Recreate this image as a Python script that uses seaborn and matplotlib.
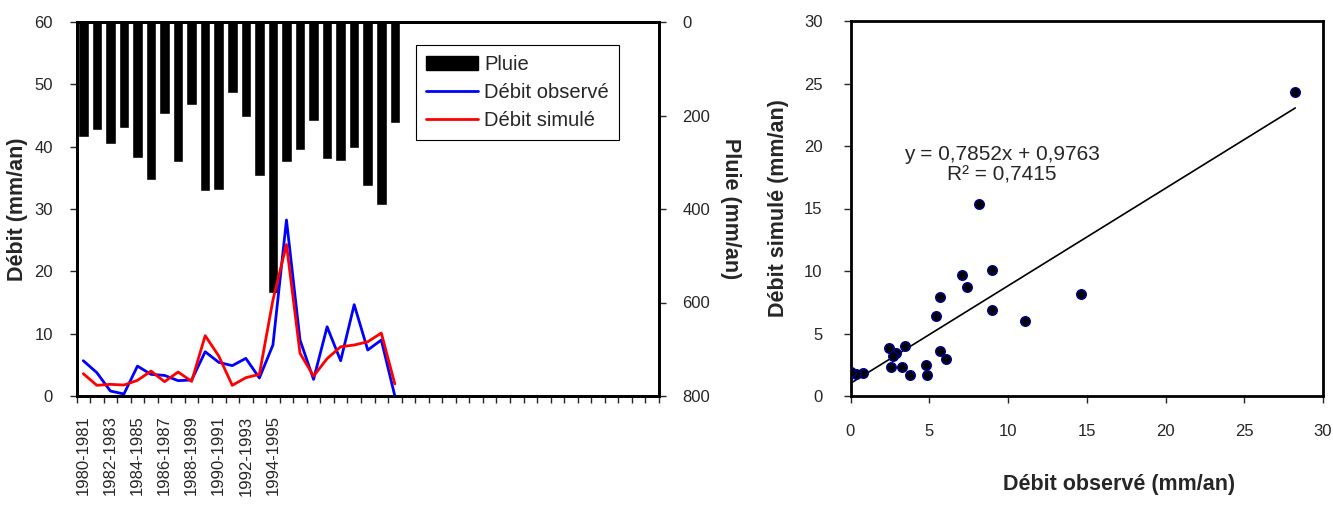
import numpy as np
import pandas as pd
import matplotlib
matplotlib.use('Agg')
import matplotlib.pyplot as plt
from matplotlib.patches import Patch
from matplotlib.lines import Line2D
import seaborn as sns

# données (1980-1981 ... 2003-2004)
pluie = [246, 230, 261, 226, 291, 338, 197, 299, 178, 361, 359, 151,
         203, 330, 580, 299, 273, 212, 292, 298, 270, 350, 391, 217]
debit_obs = [5.66, 3.75, 0.8, 0.32, 4.8, 3.47, 3.3, 2.46, 2.57, 7.1, 5.4, 4.87,
             6.04, 2.89, 8.18, 28.24, 8.98, 2.67, 11.1, 5.66, 14.65, 7.38, 8.98, 0.0]
debit_sim = [3.58, 1.71, 1.87, 1.76, 2.51, 4.0, 2.3, 3.85, 2.35, 9.68, 6.42, 1.71,
             2.94, 3.47, 15.4, 24.3, 6.85, 3.2, 6.0, 7.9, 8.18, 8.7, 10.1, 1.93]

# étiquettes des saisons (une sur deux affichée)
saisons = ["1980-1981", "1981-1982", "1982-1983", "1983-1984", "1984-1985",
           "1985-1986", "1986-1987", "1987-1988", "1988-1989", "1989-1990",
           "1990-1991", "1991-1992", "1992-1993", "1993-1994", "1994-1995",
           "1995-1996"]
n_categories = 43

equation = "y = 0,7852x + 0,9763\nR² = 0,7415"

df = pd.DataFrame({'annee': np.arange(len(pluie)), 'pluie': pluie,
                   'obs': debit_obs, 'sim': debit_sim})

sns.set_style('ticks')
plt.rcParams['font.family'] = ['Liberation Sans', 'DejaVu Sans']
plt.rcParams['axes.linewidth'] = 2
plt.rcParams['xtick.major.width'] = 1
plt.rcParams['ytick.major.width'] = 1

W, H = 1333, 507
fig = plt.figure(figsize=(W / 100, H / 100), dpi=100)

# ---- graphique de gauche : pluie + débits
ax = fig.add_axes([76.5 / W, 1 - 396 / H, (659 - 76.5) / W, (396 - 22) / H])
ax2 = ax.twinx()

sns.barplot(data=df, x='annee', y='pluie', native_scale=True, orient='x',
            color='black', width=0.78, ax=ax2, saturation=1)
ax2.set_ylim(800, 0)
ax2.set_yticks(np.arange(0, 801, 200))
ax2.set_ylabel('')

sns.lineplot(data=df, x='annee', y='obs', color='blue', lw=2, ax=ax)
sns.lineplot(data=df, x='annee', y='sim', color='red', lw=2, ax=ax)
ax.set_zorder(ax2.get_zorder() + 1)
ax.patch.set_visible(False)

ax.set_ylim(0, 60)
ax.set_yticks(np.arange(0, 61, 10))
ax.set_xlim(-0.5, n_categories - 0.5)
ax.set_xticks(np.arange(-0.5, n_categories, 1))
ax.set_xticklabels([])
ax.set_xticks(np.arange(0, len(saisons), 2), minor=True)
ax.set_xticklabels(saisons[::2], minor=True, rotation=90, fontsize=12)
ax.tick_params(axis='x', which='major', direction='out', length=5)
ax.tick_params(axis='x', which='minor', length=0, pad=14)
ax.tick_params(axis='y', direction='out', length=5, labelsize=12, pad=12)
ax2.tick_params(axis='y', direction='out', length=5, labelsize=12, pad=12)
ax.set_xlabel('')
ax.set_ylabel('Débit (mm/an)', fontsize=15.5, fontweight='bold')
ax.yaxis.set_label_coords(-0.083, 0.5)
ax2.set_ylabel('Pluie (mm/an)', fontsize=15.5, fontweight='bold', rotation=-90,
               va='center')
ax2.yaxis.set_label_coords(1.122, 0.5)
for a in (ax, ax2):
    for s in a.spines.values():
        s.set_visible(True)
        s.set_color('black')

handles = [Patch(facecolor='black', edgecolor='black'),
           Line2D([], [], color='blue', lw=2),
           Line2D([], [], color='red', lw=2)]
leg = fig.legend(handles, ['Pluie', 'Débit observé', 'Débit simulé'],
                 loc='upper left', bbox_to_anchor=(416 / W, 1 - 45 / H),
                 borderaxespad=0, fontsize=14.5, fancybox=False, framealpha=1,
                 edgecolor='black', handlelength=2.6, handletextpad=0.3,
                 labelspacing=0.45, borderpad=0.5)
leg.get_frame().set_linewidth(0.8)

# ---- graphique de droite : simulé vs observé
bx = fig.add_axes([850.5 / W, 1 - 396 / H, (1323 - 850.5) / W, (396 - 21) / H])
sns.regplot(data=df, x='obs', y='sim', ci=None, ax=bx,
            scatter_kws=dict(s=45, color='black', edgecolors='#000080',
                             linewidths=1.2, alpha=1, zorder=3),
            line_kws=dict(color='black', lw=1.2))
bx.set_xlim(0, 30)
bx.set_ylim(0, 30)
bx.set_xticks(np.arange(0, 31, 5))
bx.set_yticks(np.arange(0, 31, 5))
bx.tick_params(axis='x', direction='out', length=5, labelsize=12, pad=15)
bx.tick_params(axis='y', direction='out', length=5, labelsize=12, pad=15)
bx.set_xlabel('Débit observé (mm/an)', fontsize=15.5, fontweight='bold')
bx.set_ylabel('Débit simulé (mm/an)', fontsize=15.5, fontweight='bold')
bx.xaxis.set_label_coords(0.569, -0.235)
bx.xaxis.label.set_va('center')
bx.yaxis.set_label_coords(-0.130, 0.5)
for s in bx.spines.values():
    s.set_color('black')
bx.text(9.6, 18.5, equation, fontsize=15, ha='center', va='center',
        multialignment='center', linespacing=1.1)

fig.savefig('out.png', dpi=100)
